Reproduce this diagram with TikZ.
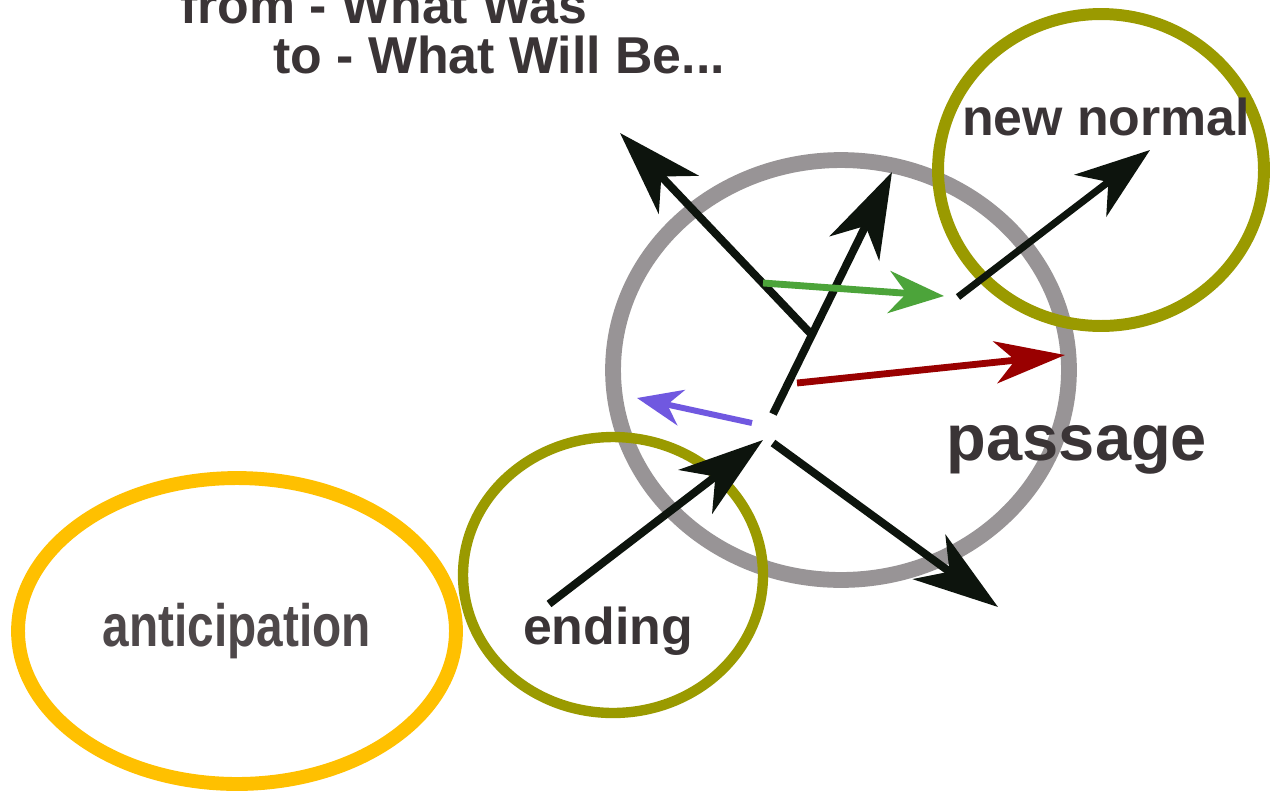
\documentclass[tikz,border=0pt]{standalone}
\usepackage{fontspec}
\setmainfont{Liberation Sans}
\usetikzlibrary{arrows.meta,shapes.geometric}
\definecolor{ringgray}{HTML}{989496}
\definecolor{ringolive}{HTML}{9A9A00}
\definecolor{ringgold}{HTML}{FFC000}
\definecolor{inkblack}{HTML}{0D140D}
\definecolor{arrgreen}{HTML}{4CA43A}
\definecolor{arrred}{HTML}{990000}
\definecolor{arrviolet}{HTML}{7058E0}
\definecolor{textgray}{HTML}{3A3436}

\begin{document}
\begin{tikzpicture}[
    x=0.02cm, y=-0.02cm,
    ring/.style={draw, ellipse, inner sep=0pt},
    lbl/.style={font=\bfseries\fontsize{29.5}{34}\selectfont, text=textgray, inner sep=0pt},
    bigarr/.style={-{Stealth[length=1.7cm, width=1.1cm, inset=0.5cm]}, line width=4.5pt, inkblack},
    thinarr/.style={-{Stealth[length=1.1cm, width=0.84cm, inset=0.35cm]}, line width=3.9pt}
]
\clip (0,0) rectangle (1270,795);
\fill[white] (0,0) rectangle (1270,795);

% rings
\node[ring, draw=ringgray, line width=9pt, minimum width=9.12cm, minimum height=8.4cm] (passring) at (841,370) {};
\node[ring, draw=ringolive, line width=5.9pt, minimum width=6.0cm, minimum height=5.52cm] (endring) at (613,575) {};
\node[ring, draw=ringolive, line width=6.8pt, minimum width=6.52cm, minimum height=6.24cm] (newring) at (1101,170) {};
\node[ring, draw=ringgold, line width=7.9pt, minimum width=8.76cm, minimum height=6.12cm, font=\bfseries\fontsize{34}{38}\selectfont, text=textgray!90] (antic) at (237,631) {\scalebox{0.8}[1]{anticipation}};

% arrow ends
\coordinate (upl) at (620,133);
\coordinate (knee) at (812,335);
\coordinate (riseA) at (773,414);
\coordinate (riseB) at (892,172);
\coordinate (endA) at (549,604);
\coordinate (endB) at (763,440);
\coordinate (downA) at (773,443);
\coordinate (downB) at (998,607);
\coordinate (newA) at (958,297);
\coordinate (newB) at (1150,150);
\coordinate (grnA) at (763,283);
\coordinate (grnB) at (944,296);
\coordinate (redA) at (797,383);
\coordinate (redB) at (1065,355);
\coordinate (vioA) at (752,423);
\coordinate (vioB) at (637,398);

\draw[bigarr] (knee) -- (upl);
\draw[bigarr] (riseA) -- (riseB);
\draw[bigarr] (endA) -- (endB);
\draw[bigarr] (downA) -- (downB);
\draw[bigarr, line width=4pt, -{Stealth[length=1.5cm, width=1.05cm, inset=0.45cm]}] (newA) -- (newB);
\draw[thinarr, arrgreen] (grnA) -- (grnB);
\draw[thinarr, arrred, -{Stealth[length=1.4cm, width=0.84cm, inset=0.4cm]}] (redA) -- (redB);
\draw[thinarr, arrviolet, line width=3.4pt, -{Stealth[length=0.9cm, width=0.72cm, inset=0.28cm]}] (vioA) -- (vioB);

% labels
\node[lbl, anchor=base west] (from) at (180,23) {from - What Was};
\node[lbl, anchor=base west] (to) at (273,73) {to - What Will Be...};
\node[lbl, anchor=base] (newlbl) at (1106,135) {new normal};
\node[lbl, anchor=base] (endlbl) at (608,644) {ending};
\node[lbl, anchor=base, font=\bfseries\fontsize{37}{42}\selectfont] (passlbl) at (1077,460) {passage};
\end{tikzpicture}
\end{document}
